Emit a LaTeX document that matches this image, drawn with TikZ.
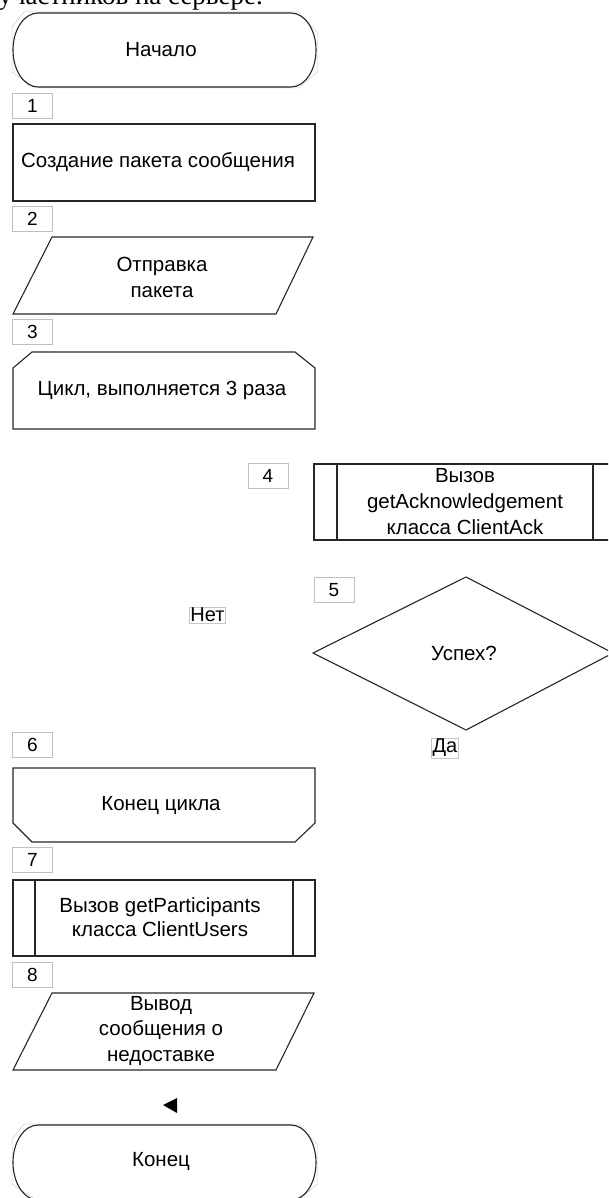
\documentclass[tikz,border=0pt]{standalone}
\usepackage{fontspec}
\setmainfont{Liberation Sans}
\newfontfamily\bodyserif{Liberation Serif}
\begin{document}
\begin{tikzpicture}[x=1pt,y=1pt,
    blk/.style={line width=1.1pt,black!85},
    frm/.style={line width=0.5pt,gray!40},
    num/.style={draw=gray!50,line width=0.6pt,minimum width=40pt,minimum height=25pt,inner sep=0pt,font=\fontsize{19}{20}\selectfont},
    txt/.style={align=center,inner sep=0pt,font=\fontsize{20.5}{26}\selectfont},
    ans/.style={draw=gray!45,line width=0.5pt,inner sep=1pt,font=\fontsize{20}{20}\selectfont}]
\useasboundingbox (0,0) rectangle (608,-1198);
\begin{scope}
\clip (0,0) rectangle (608,-1198);
    % tail of the text line above
    \node[anchor=base east,inner sep=0pt,font=\bodyserif\fontsize{27}{30}\selectfont] (head) at (263,-5) {участников на сервере.};
    % start
    \draw[frm] (12,-27)--(24,-12)--(298,-12)--(317,-32)--(317,-72)--(299,-88)--(36,-88)--(12,-72)--cycle;
    \draw[blk] (38,-13)--(291,-13) arc[start angle=90,end angle=-90,x radius=25,y radius=37]--(38,-87) arc[start angle=270,end angle=90,x radius=25,y radius=37]--cycle;
    \node[txt] (start) at (161,-50) {Начало};
    \node[num] (n1) at (32.5,-105.5) {1};
    % 1
    \draw[blk] (13,-124) rectangle (315,-201);
    \node[txt] (make) at (158,-162.5) {Создание пакета сообщения};
    \node[num] (n2) at (32.5,-218.5) {2};
    % 2
    \draw[blk] (52,-237)--(313,-237)--(276,-314)--(13,-314)--cycle;
    \node[txt] (send) at (162,-277) {Отправка\\пакета};
    \node[num] (n3) at (32.5,-332) {3};
    % 3 loop begin
    \draw[blk] (13,-429)--(13,-368)--(32,-352)--(295,-352)--(315,-368)--(315,-429)--cycle;
    \node[txt] (loop) at (162,-390) {Цикл, выполняется 3 раза};
    % 4
    \node[num] (n4) at (268,-476) {4};
    \draw[blk] (314,-464) rectangle (616,-540);
    \draw[blk] (337,-464)--(337,-540);
    \draw[blk] (593,-464)--(593,-540);
    \node[txt] (ack) at (465,-502) {Вызов\\getAcknowledgement\\класса ClientAck};
    % 5
    \node[num] (n5) at (334,-590) {5};
    \draw[blk] (466,-577)--(613,-653)--(466,-730)--(313,-653)--cycle;
    \node[txt] (ok) at (464,-653) {Успех?};
    \node[ans] (no) at (207.5,-615) {Нет};
    \node[ans] (yes) at (445,-748) {Да};
    % 6 loop end
    \node[num] (n6) at (32.5,-744.5) {6};
    \draw[blk] (13,-768)--(315,-768)--(315,-823)--(295,-842)--(32,-842)--(13,-823)--cycle;
    \node[txt] (endloop) at (161,-805) {Конец цикла};
    % 7
    \node[num] (n7) at (32.5,-859.5) {7};
    \draw[blk] (13,-880) rectangle (315,-956);
    \draw[blk] (35,-880)--(35,-956);
    \draw[blk] (293,-880)--(293,-956);
    \node[txt,font=\fontsize{20.5}{23.5}\selectfont] (users) at (160,-917) {Вызов getParticipants\\класса ClientUsers};
    % 8
    \node[num] (n8) at (32.5,-975) {8};
    \draw[blk] (52,-993)--(314,-993)--(276,-1070)--(13,-1070)--cycle;
    \node[txt,font=\fontsize{20.5}{25.5}\selectfont] (fail) at (161,-1030.5) {Вывод\\сообщения о\\недоставке};
    \fill[black] (163,-1105)--(177,-1098)--(177,-1113)--cycle;
    % end
    \draw[frm] (12,-1139)--(24,-1124)--(298,-1124)--(317,-1144)--(317,-1184)--(299,-1200)--(36,-1200)--(12,-1184)--cycle;
    \draw[blk] (38,-1125)--(291,-1125) arc[start angle=90,end angle=-90,x radius=25,y radius=37.5]--(38,-1200) arc[start angle=270,end angle=90,x radius=25,y radius=37.5]--cycle;
    \node[txt] (stop) at (161,-1161) {Конец};
\end{scope}
\end{tikzpicture}
\end{document}
